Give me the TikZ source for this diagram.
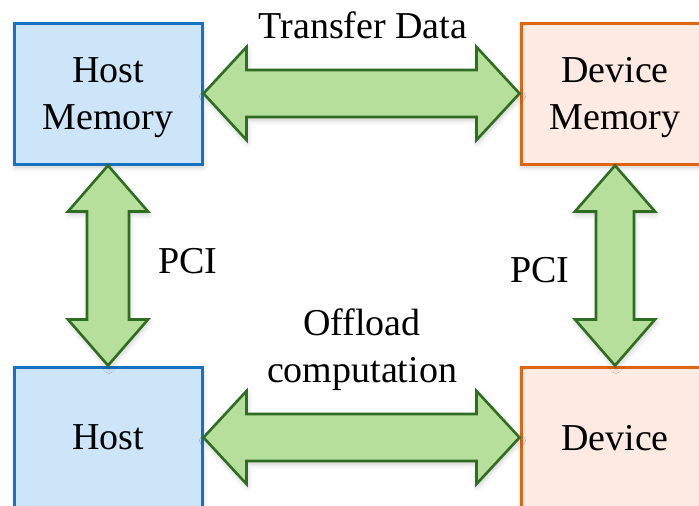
\documentclass[tikz,border=0pt]{standalone}
\usepackage{fontspec}
\setmainfont{Liberation Serif}
\usetikzlibrary{calc,shadows.blur}

\definecolor{hostfill}{HTML}{CCE5F8}
\definecolor{hostline}{HTML}{1672C0}
\definecolor{devfill}{HTML}{FDEAE3}
\definecolor{devline}{HTML}{E2640F}
\definecolor{linkfill}{HTML}{B5DF9B}
\definecolor{linkline}{HTML}{2F6E22}

% double-headed block arrow between two tips:
% #1,#2 tips, #3 head length, #4 head half width, #5 shaft half width
\newcommand\blockarrow[5]{%
  \coordinate (ha) at ($(#1)!#3!(#2)$);
  \coordinate (hb) at ($(#2)!#3!(#1)$);
  \draw[linkarrow] (#1)
    -- ($(ha)!#4!90:(#2)$) -- ($(ha)!#5!90:(#2)$)
    -- ($(hb)!#5!-90:(#1)$) -- ($(hb)!#4!-90:(#1)$)
    -- (#2)
    -- ($(hb)!#4!90:(#1)$) -- ($(hb)!#5!90:(#1)$)
    -- ($(ha)!#5!-90:(#2)$) -- ($(ha)!#4!-90:(#2)$)
    -- cycle;}

\begin{document}
\begin{tikzpicture}[x=1pt,y=-1pt,
  bigtext/.style={font=\fontsize{38}{47}\selectfont},
  softshadow/.style={blur shadow={shadow xshift=1pt,shadow yshift=-3pt,
      shadow opacity=22,shadow blur radius=5pt}},
  membox/.style={bigtext,softshadow,rectangle,minimum width=188pt,minimum height=141pt,
      inner sep=0pt,align=center,line width=3pt,text depth=0pt},
  hostbox/.style={membox,draw=hostline,fill=hostfill},
  devbox/.style={membox,draw=devline,fill=devfill},
  linkarrow/.style={draw=linkline,fill=linkfill,line width=2.6pt,line join=miter,softshadow},
  tag/.style={bigtext,inner sep=0pt,anchor=base}]

\useasboundingbox (0,0) rectangle (699,506);

% memory and compute boxes
\node[hostbox] (hm) at (108,93.5)  {Host\\Memory};
\node[devbox]  (dm) at (615,93.5)  {Device\\Memory};
\node[hostbox] (h)  at (108,437.5) {Host};
\node[devbox]  (d)  at (615,437.5) {Device};

% links between them
\blockarrow{hm.east}{dm.west}{43pt}{46.5pt}{23.5pt}
\blockarrow{h.east}{d.west}{43pt}{46.5pt}{23.5pt}
\blockarrow{hm.south}{h.north}{46pt}{40pt}{21pt}
\blockarrow{dm.south}{d.north}{46pt}{40pt}{19pt}

% link labels
\node[tag] (tdata) at (363,38) {Transfer Data};
\node[bigtext,inner sep=0pt,align=center] (offl) at (362,350) {Offload\\computation};
\node[tag] (pcil) at (188,273) {PCI};
\node[tag] (pcir) at (540,282) {PCI};

\end{tikzpicture}
\end{document}
